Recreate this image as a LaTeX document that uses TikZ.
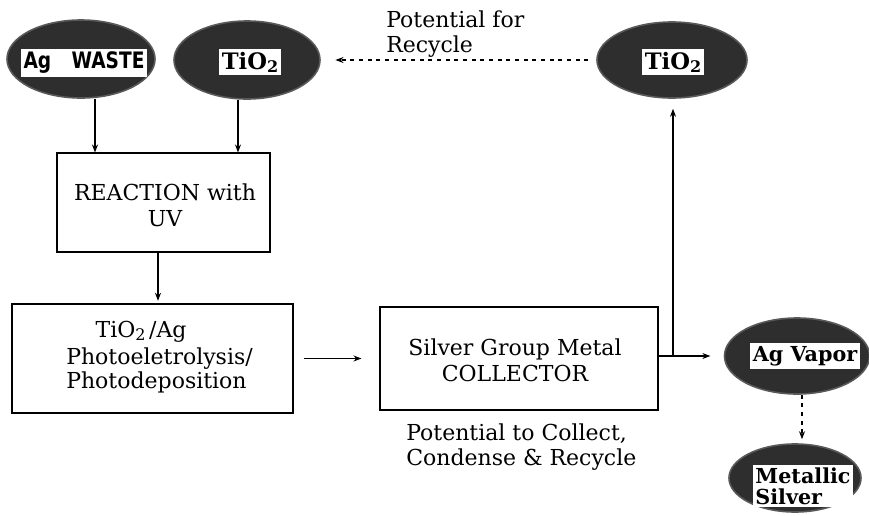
\documentclass[tikz,border=0pt]{standalone}
\usepackage{fontspec}
\setmainfont{DejaVu Serif}
\newfontfamily\agfont{DejaVu Sans}[FakeStretch=0.82]
\usetikzlibrary{shapes.geometric,arrows.meta}
\newcommand{\two}{\raisebox{-0.25ex}{\fontsize{12}{13}\selectfont 2}}
\tikzset{
  blob/.style={ellipse, fill=black!82, draw=black!65, line width=1.2pt, inner sep=0pt},
  tag/.style={fill=white, inner sep=2.2pt, font=\fontsize{17}{18.5}\selectfont\bfseries, align=left},
  smalltag/.style={tag, font=\fontsize{15.5}{17.5}\selectfont\bfseries},
  procbox/.style={draw, line width=0.8pt, inner sep=0pt},
  txt/.style={font=\fontsize{16.5}{19.5}\selectfont, align=center, inner sep=0pt},
  arr/.style={line width=0.8pt, -{Stealth[length=6pt,width=4.5pt]}},
  dotarr/.style={arr, dash pattern=on 3pt off 3.5pt},
}
\begin{document}
\begin{tikzpicture}[x=0.75pt,y=-0.75pt]
\useasboundingbox (0,0) rectangle (869,515);
% ellipses
\node[blob, minimum width=148*0.75pt, minimum height=78*0.75pt] (agw) at (81,59) {};
\node[tag, font=\agfont\fontsize{17}{18}\selectfont\bfseries] (agwt) at (84,63) {Ag\hspace{0.9em}WASTE};
\node[blob, minimum width=146*0.75pt, minimum height=78*0.75pt] (tio2l) at (247,60) {};
\node[tag] (tio2lt) at (250,62) {TiO\two};
\node[blob, minimum width=150*0.75pt, minimum height=76*0.75pt] (tio2r) at (672,60) {};
\node[tag] (tio2rt) at (673,62) {TiO\two};
\node[blob, minimum width=145*0.75pt, minimum height=76*0.75pt] (agv) at (797,356) {};
\node[smalltag] (agvt) at (805,356) {Ag Vapor};
\node[blob, minimum width=132*0.75pt, minimum height=68*0.75pt] (ms) at (795,478) {};
\node[smalltag] (mst) at (803,486) {Metallic\\[-2pt]Silver};
% boxes
\node[procbox, minimum width=213*0.75pt, minimum height=99*0.75pt] (reaction) at (163.5,202.5) {};
\node[txt] (reactiont) at (165,205) {REACTION with\\UV};
\node[procbox, minimum width=281*0.75pt, minimum height=109*0.75pt] (photo) at (152.5,358.5) {};
\node[txt, align=left, anchor=west] (photot) at (66,357) {\hspace*{22pt}TiO\two\,/Ag\\[1pt]Photoeletrolysis/\\[-2pt]Photodeposition};
\node[procbox, minimum width=278*0.75pt, minimum height=103*0.75pt] (coll) at (519,358.5) {};
\node[txt] (collt) at (515,360) {Silver Group Metal\\COLLECTOR};
% free texts
\node[txt, align=left, anchor=west] (recyc) at (386,34) {Potential for\\[-1pt]Recycle};
\node[txt, align=left, anchor=west] (collect) at (406,447) {Potential to Collect,\\[-1pt]Condense \& Recycle};
% helper coordinates
\coordinate (x1) at (95,0);
\coordinate (x2) at (238,0);
\coordinate (x3) at (158,0);
\coordinate (x4) at (802,0);
\coordinate (j) at (673,356);
% connectors
\draw[arr] (agw.south -| x1) -- (x1 |- reaction.north);
\draw[arr] (tio2l.south -| x2) -- (x2 |- reaction.north);
\draw[arr, shorten >=2pt] (reaction.south -| x3) -- (x3 |- photo.north);
\draw[arr, shorten <=7.5pt, shorten >=13.5pt] (photo.east) -- (coll.west);
\draw[arr, shorten >=10pt] (coll.east |- j) -- (j -| agv.west);
\draw[arr, shorten >=7.5pt] (j) -- (j |- tio2r.south);
\draw[dotarr, shorten <=6pt, shorten >=11pt] (tio2r.west) -- (tio2l.east);
\draw[dotarr, shorten >=3pt] (agv.south -| x4) -- (x4 |- ms.north);
\end{tikzpicture}
\end{document}
